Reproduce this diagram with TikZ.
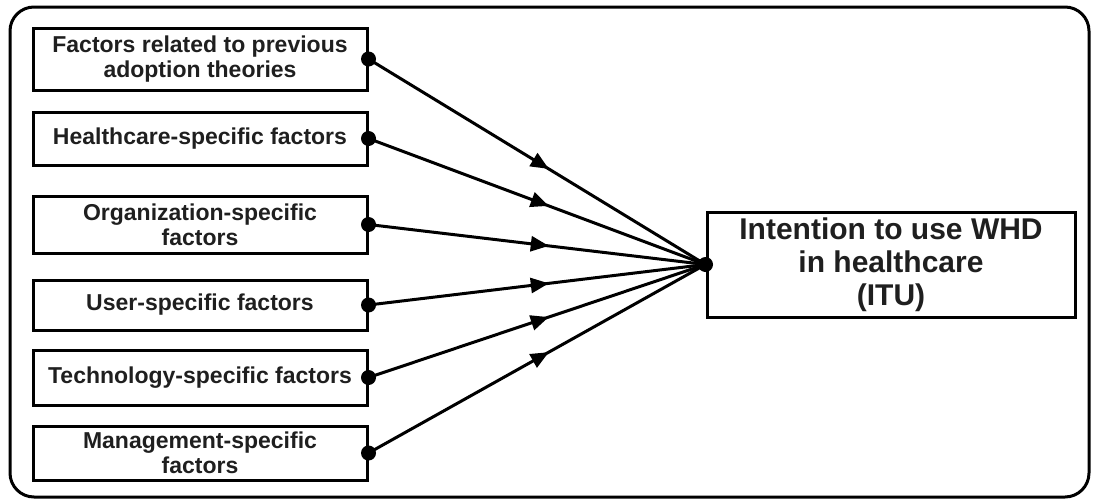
\documentclass[tikz,border=0pt]{standalone}
\usepackage{fontspec}
\setmainfont{Liberation Sans}
\usetikzlibrary{arrows.meta,decorations.markings}
\begin{document}
\begin{tikzpicture}[x=1pt,y=-1pt,
  factorbox/.style={draw=black,line width=3pt,minimum width=334pt,align=center,
    font=\fontsize{23}{25}\selectfont\bfseries,text=black!88,inner sep=0pt},
  itubox/.style={draw=black,line width=3pt,minimum width=368pt,minimum height=105pt,align=center,
    font=\fontsize{30}{33}\selectfont\bfseries,text=black!88,inner sep=0pt},
  dot/.style={circle,fill=black,inner sep=0pt,minimum size=15pt},
  link/.style={line width=3pt,postaction={decorate},
    decoration={markings,mark=at position 0.535 with {\arrow{Triangle[length=18pt,width=15pt]}}}}]
\useasboundingbox (0,0) rectangle (1098,501);
% outer frame
\draw[line width=3pt,rounded corners=24pt] (10,7) rectangle (1089,497);
% factor boxes
\node[factorbox,minimum height=62pt] (f1) at (200,59) {Factors related to previous\\adoption theories};
\node[factorbox,minimum height=53pt] (f2) at (200,138.5) {Healthcare-specific factors};
\node[factorbox,minimum height=57pt] (f3) at (200,224.5) {Organization-specific\\factors};
\node[factorbox,minimum height=50pt] (f4) at (200,305) {User-specific factors};
\node[factorbox,minimum height=55pt] (f5) at (200,377.5) {Technology-specific factors};
\node[factorbox,minimum height=54pt] (f6) at (200,453) {Management-specific\\factors};
% target box
\node[itubox] (itu) at (891,264.5) {Intention to use WHD\\in healthcare\\(ITU)};
% connectors
\foreach \i in {1,...,6}{
  \draw[link] (f\i.east) -- (itu.west);
  \node[dot] (d\i) at (f\i.east) {};
}
\node[dot] (dt) at (itu.west) {};
\end{tikzpicture}
\end{document}
